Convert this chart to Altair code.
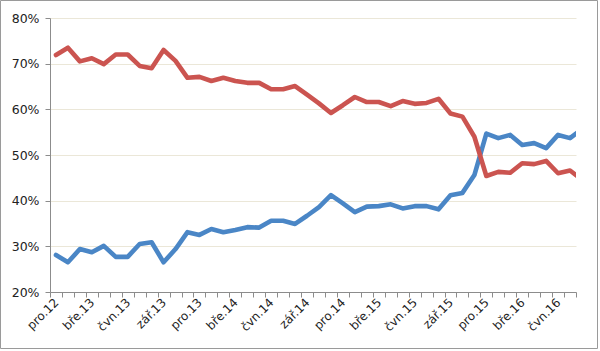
import altair as alt
import pandas as pd

# ---- data ----
month_abbr = ["led", "úno", "bře", "dub", "kvě", "čvn", "čvc", "srp", "zář", "říj", "lis", "pro"]

blue_values = [28.1, 26.5, 29.4, 28.7, 30.1, 27.7, 27.7, 30.5, 30.9, 26.5,
               29.4, 33.1, 32.5, 33.8, 33.1, 33.6, 34.2, 34.1, 35.6, 35.6,
               34.9, 36.7, 38.6, 41.2, 39.4, 37.5, 38.7, 38.8, 39.2, 38.3,
               38.8, 38.8, 38.1, 41.2, 41.7, 45.6, 54.7, 53.7, 54.4, 52.2,
               52.6, 51.5, 54.4, 53.7, 55.7]

red_values = [71.9, 73.5, 70.5, 71.2, 69.9, 72.0, 72.0, 69.5, 69.0, 73.0,
              70.6, 66.9, 67.1, 66.2, 66.9, 66.2, 65.8, 65.8, 64.4, 64.4,
              65.1, 63.2, 61.3, 59.2, 60.9, 62.7, 61.6, 61.6, 60.7, 61.8,
              61.2, 61.4, 62.3, 59.1, 58.4, 54.0, 45.4, 46.3, 46.1, 48.2,
              48.0, 48.7, 46.0, 46.6, 44.6]

y_ticks = [20, 30, 40, 50, 60, 70, 80]
n_cat = 44  # visible categories pro.12 .. čvc.16

month_labels = []
for i in range(len(blue_values)):
    m = (11 + i) % 12
    yr = 12 + (11 + i) // 12
    month_labels.append(f"{month_abbr[m]}.{yr}")

label_idx = list(range(0, n_cat, 3))
boundaries = [i - 0.5 for i in range(n_cat + 1)]

rows = []
for i in range(len(blue_values)):
    rows.append({"idx": i, "series": "A", "value": blue_values[i], "month": month_labels[i]})
    rows.append({"idx": i, "series": "B", "value": red_values[i], "month": month_labels[i]})
df = pd.DataFrame(rows)

FONT = "DejaVu Sans"
AXIS_COLOR = "#8c8c8c"
GRID_COLOR = "#ebe7d8"
BLUE = "#4a86c6"
RED = "#cb5450"

xscale = alt.Scale(domain=[-0.5, n_cat - 0.5], nice=False, zero=False)
yscale = alt.Scale(domain=[20, 80], nice=False, zero=False)

yaxis = alt.Axis(values=y_ticks, labelExpr="datum.value + '%'", grid=True,
                 gridColor=GRID_COLOR, gridWidth=1, tickSize=5,
                 tickColor=AXIS_COLOR, domainColor=AXIS_COLOR,
                 labelFont=FONT, labelFontSize=12.5, labelColor="#222222",
                 labelPadding=6, title=None)

label_array = "[" + ",".join("'" + s + "'" for s in month_labels) + "]"

lines = alt.Chart(df).mark_line(
    strokeWidth=4.6, strokeJoin="round", strokeCap="round", clip=True
).encode(
    x=alt.X("idx:Q", scale=xscale,
            axis=alt.Axis(values=boundaries, labels=False, ticks=True, tickSize=5,
                          tickColor=AXIS_COLOR, domainColor=AXIS_COLOR, domainWidth=1,
                          grid=False, title=None, orient="bottom")),
    y=alt.Y("value:Q", scale=yscale, axis=yaxis),
    color=alt.Color("series:N", scale=alt.Scale(domain=["A", "B"], range=[BLUE, RED]),
                    legend=None),
    detail="series:N",
)

labels_layer = alt.Chart(df).mark_point(opacity=0).encode(
    x=alt.X("idx:Q", scale=xscale,
            axis=alt.Axis(values=label_idx, labelExpr=label_array + "[datum.value]",
                          ticks=False, domain=False, grid=False, title=None,
                          orient="bottom", labelAngle=315, labelAlign="right",
                          labelBaseline="middle", labelPadding=8, labelOverlap=False,
                          labelFont=FONT, labelFontSize=12, labelColor="#222222")),
    y=alt.Y("value:Q", scale=yscale, axis=yaxis),
)

frame = alt.Chart(pd.DataFrame({"a": [0]})).mark_rect(
    filled=False, stroke="#9a9a9a", strokeWidth=1
).encode(
    x=alt.value(-49.5), x2=alt.value(547.5), y=alt.value(-17.5), y2=alt.value(330.5)
)

chart = alt.layer(frame, lines, labels_layer).resolve_axis(x="independent").properties(
    width=526, height=274,
    autosize=alt.AutoSizeParams(type="none"),
    padding={"left": 50, "top": 18, "right": 24, "bottom": 59},
    background="white",
).configure_view(stroke="transparent")

chart.save("out.html", embed_options={"renderer": "svg", "actions": False})
